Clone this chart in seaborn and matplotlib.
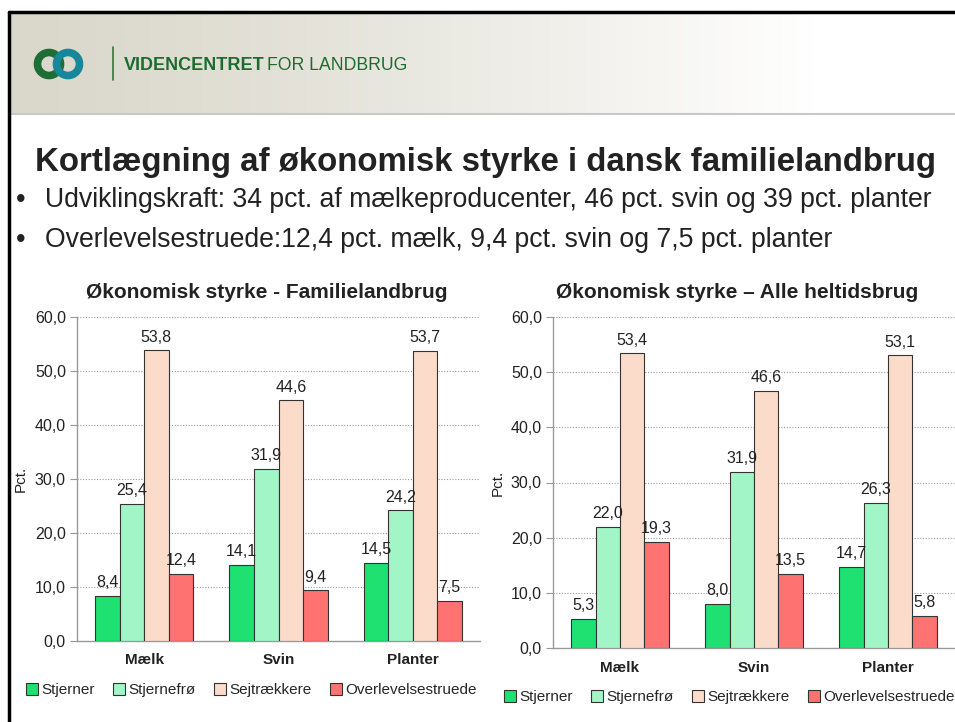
import numpy as np
import pandas as pd
import matplotlib.pyplot as plt
import seaborn as sns
from matplotlib.patches import Circle, Patch
from matplotlib.ticker import FixedLocator

sns.set_style("white")
plt.rcParams['font.family'] = ['Liberation Sans', 'DejaVu Sans']

# data
categories = ["Mælk", "Svin", "Planter"]
series = ["Stjerner", "Stjernefrø", "Sejtrækkere", "Overlevelsestruede"]
familie = {
    "Stjerner": [8.4, 14.1, 14.5],
    "Stjernefrø": [25.4, 31.9, 24.2],
    "Sejtrækkere": [53.8, 44.6, 53.7],
    "Overlevelsestruede": [12.4, 9.4, 7.5],
}
heltid = {
    "Stjerner": [5.3, 8.0, 14.7],
    "Stjernefrø": [22.0, 31.9, 26.3],
    "Sejtrækkere": [53.4, 46.6, 53.1],
    "Overlevelsestruede": [19.3, 13.5, 5.8],
}
yticks = [0, 10, 20, 30, 40, 50, 60]
colors = ["#1ee172", "#a2f5c6", "#fbdcca", "#fe7272"]

title = "Kortlægning af økonomisk styrke i dansk familielandbrug"
bullets = ["Udviklingskraft: 34 pct. af mælkeproducenter, 46 pct. svin og 39 pct. planter",
           "Overlevelsestruede:12,4 pct. mælk, 9,4 pct. svin og 7,5 pct. planter"]

W, H = 955, 722
fig = plt.figure(figsize=(W / 100, H / 100), dpi=100)

# background / slide decorations in pixel coordinates
bg = fig.add_axes([0, 0, 1, 1], zorder=-1)
bg.set_xlim(0, W)
bg.set_ylim(H, 0)
bg.axis("off")

grad = np.linspace(0, 1, 256)
c0 = np.array([218, 216, 203]) / 255
c1 = np.array([255, 255, 255]) / 255
t = np.clip(grad / 0.85, 0, 1) ** 1.3
img = c0[None, :] * (1 - t[:, None]) + c1[None, :] * t[:, None]
bg.imshow(img[None, :, :], extent=[10, W, 113, 13], aspect="auto", zorder=0)
bg.plot([10, W], [114, 114], color="#c8c8c8", lw=1.5, zorder=1)
bg.plot([9, 9], [12, H], color="black", lw=2.5, zorder=3)
bg.plot([9, W], [12, 12], color="black", lw=2.5, zorder=3)

# logo
bg.add_patch(Circle((49, 64), 11.5, fill=False, lw=5.5, ec="#1d6d35", zorder=2))
bg.add_patch(Circle((68, 64), 11.5, fill=False, lw=5.5, ec="#17879b", zorder=2))
bg.plot([113, 113], [47, 80], color="#2f7a3a", lw=1.2)
bg.text(124, 66, "VIDENCENTRET", fontsize=13, fontweight="bold", color="#1d6b2f", va="center")
bg.text(267, 66, "FOR LANDBRUG", fontsize=12.7, color="#1d6b2f", va="center")

bg.text(35, 163, title, fontsize=23.8, fontweight="bold", color="#222222", va="center")
for i, b in enumerate(bullets):
    y = 200 + i * 40
    bg.text(16, y, "•", fontsize=19.5, color="#222222", va="center")
    bg.text(45, y, b, fontsize=19.2, color="#222222", va="center")


def draw_chart(rect, values, chart_title, title_x, ylab_x, leg_anchor):
    ax = fig.add_axes(rect)
    rows = []
    for s in series:
        for c, v in zip(categories, values[s]):
            rows.append({"cat": c, "serie": s, "val": v})
    df = pd.DataFrame(rows)
    sns.barplot(data=df, x="cat", y="val", hue="serie", order=categories,
                hue_order=series, palette=colors, saturation=1, width=0.73, dodge=True,
                edgecolor="#333333", linewidth=0.8, legend=False, ax=ax, zorder=3)
    for cont in ax.containers:
        labels = [f"{b.get_height():.1f}".replace(".", ",") for b in cont]
        ax.bar_label(cont, labels=labels, padding=4, fontsize=11.5, color="#222222")
    ax.set_ylim(0, 60)
    ax.set_xlim(-0.5, 2.5)
    ax.set_yticks(yticks)
    ax.set_yticklabels([f"{v:.1f}".replace(".", ",") for v in yticks], fontsize=11.5, color="#222222")
    ax.set_xticks(range(3))
    ax.set_xticklabels(categories, fontsize=11, fontweight="bold", color="#222222")
    ax.xaxis.set_minor_locator(FixedLocator([-0.5, 0.5, 1.5, 2.5]))
    ax.tick_params(axis="x", which="major", length=0, pad=9)
    ax.tick_params(axis="x", which="minor", length=5, color="#999999", direction="out")
    ax.tick_params(axis="y", length=5, color="#999999", direction="out", left=True, pad=3)
    ax.set_xlabel("")
    ax.set_ylabel("Pct.", fontsize=11, color="#222222")
    ax.yaxis.set_label_coords(ylab_x, 0.5)
    for y in yticks[1:]:
        ax.axhline(y, color="#9a9a9a", lw=0.8, ls=(0, (1, 1.5)), zorder=1)
    for sp in ["top", "right"]:
        ax.spines[sp].set_visible(False)
    for sp in ["left", "bottom"]:
        ax.spines[sp].set_color("#999999")
        ax.spines[sp].set_linewidth(1)
    ax.set_facecolor("none")
    ax.set_title(chart_title, fontsize=15, fontweight="bold", color="#222222", pad=14, x=title_x)
    handles = [Patch(facecolor=c, edgecolor="#333333", lw=0.8) for c in colors]
    ax.legend(handles, series, loc="center", bbox_to_anchor=leg_anchor, ncol=4,
              frameon=False, fontsize=11, handlelength=0.8, handleheight=0.8,
              handletextpad=0.2, columnspacing=1.2, borderaxespad=0)
    return ax


draw_chart([77 / W, 81 / H, 403 / W, 324 / H], familie,
           "Økonomisk styrke - Familielandbrug", 0.471, -0.122, (0.432, -0.151))
draw_chart([553 / W, 74 / H, 402 / W, 331 / H], heltid,
           "Økonomisk styrke – Alle heltidsbrug", 0.458, -0.119, (0.438, -0.148))

fig.savefig("out.png", dpi=100)
